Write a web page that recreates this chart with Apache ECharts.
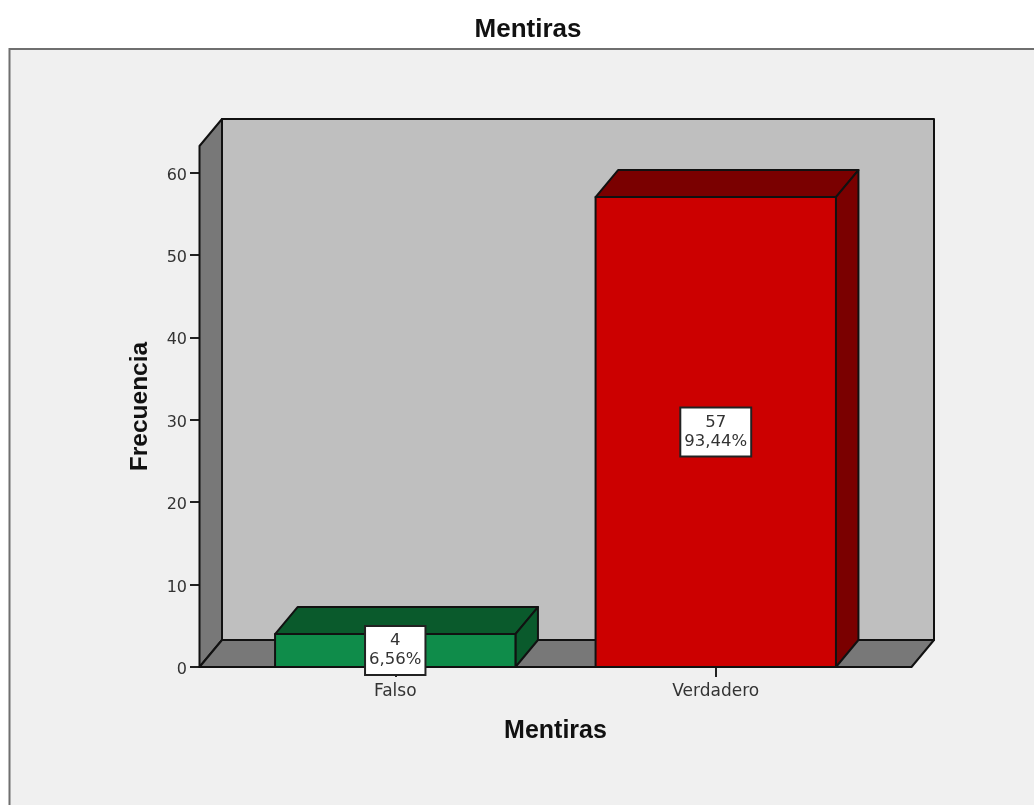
<!DOCTYPE html>
<html>
<head>
<meta charset="utf-8">
<title>Mentiras</title>
<script src="https://cdn.jsdelivr.net/npm/echarts@6/dist/echarts.min.js"></script>
<style>
  html, body { margin: 0; padding: 0; background: #fff; }
  #chart { width: 1034px; height: 805px; }
</style>
</head>
<body>
<div id="chart"></div>
<script>
const categories = ['Falso', 'Verdadero'];
const counts = [4, 57];
const percents = ['6,56%', '93,44%'];
const yTicks = [0, 10, 20, 30, 40, 50, 60];

const faceColors = ['#0f8c4a', '#cc0000'];
const shadeColors = ['#0a5a2c', '#7a0000'];

// oblique offset of the fake 3d box
const depthX = 22.5;
const depthY = 27;
const wallPad = 35.5;
const boldFont = '"Liberation Sans", Arial, sans-serif';
const font = '"DejaVu Sans", sans-serif';
const edge = { stroke: '#111', lineWidth: 2, lineJoin: 'round' };

function poly(points, fill) {
  return { type: 'polygon', shape: { points: points }, style: Object.assign({ fill: fill }, edge) };
}

function renderWalls(params, api) {
  const cs = params.coordSys;
  const x0 = cs.x - wallPad;
  const x1 = cs.x + cs.width + wallPad;
  const y0 = cs.y + cs.height;
  const yt = cs.y;
  return {
    type: 'group',
    children: [
      poly([[x0 + depthX, yt - depthY], [x1 + depthX, yt - depthY], [x1 + depthX, y0 - depthY], [x0 + depthX, y0 - depthY]], '#bfbfbf'),
      poly([[x0, yt], [x0 + depthX, yt - depthY], [x0 + depthX, y0 - depthY], [x0, y0]], '#787878'),
      poly([[x0, y0], [x0 + depthX, y0 - depthY], [x1 + depthX, y0 - depthY], [x1, y0]], '#787878')
    ]
  };
}

function renderBar(params, api) {
  const i = api.value(0);
  const v = api.value(1);
  const top = api.coord([i, v]);
  const base = api.coord([i, 0]);
  const w = api.size([1, 0])[0] * 0.75;
  const l = top[0] - w / 2;
  const r = top[0] + w / 2;
  const t = top[1];
  const b = base[1];
  return {
    type: 'group',
    children: [
      poly([[l, t], [l + depthX, t - depthY], [r + depthX, t - depthY], [r, t]], shadeColors[i]),
      poly([[r, t], [r + depthX, t - depthY], [r + depthX, b - depthY], [r, b]], shadeColors[i]),
      poly([[l, t], [r, t], [r, b], [l, b]], faceColors[i]),
      {
        type: 'text',
        x: top[0],
        y: (t + b) / 2,
        z2: 10,
        style: {
          text: v + '\n' + percents[i],
          x: 0,
          y: 0,
          align: 'center',
          verticalAlign: 'middle',
          font: '16.5px ' + font,
          lineHeight: 19,
          fill: '#333',
          backgroundColor: '#fff',
          borderColor: '#222',
          borderWidth: 2,
          padding: [7, 3, 2, 3]
        }
      }
    ]
  };
}

const chart = echarts.init(document.getElementById('chart'));
chart.setOption({
  animation: false,
  backgroundColor: '#fff',
  textStyle: { fontFamily: font },
  title: {
    text: 'Mentiras',
    left: 523,
    top: 12,
    textAlign: 'center',
    textStyle: { fontFamily: boldFont, fontSize: 26, fontWeight: 'bold', color: '#111' }
  },
  graphic: [{
    type: 'rect',
    z: -1,
    silent: true,
    shape: { x: 9.5, y: 49, width: 1100, height: 850 },
    style: { fill: '#f0f0f0', stroke: '#6f6f6f', lineWidth: 2 }
  }],
  grid: { left: 235, top: 146, width: 641, height: 521 },
  xAxis: {
    type: 'category',
    data: categories,
    name: 'Mentiras',
    nameLocation: 'middle',
    nameGap: 52,
    nameTextStyle: { fontSize: 25, fontWeight: 'bold', color: '#111', fontFamily: boldFont },
    axisLine: { show: false },
    axisTick: { show: true, alignWithLabel: true, length: 10, lineStyle: { color: '#222', width: 2 } },
    axisLabel: { fontSize: 17, color: '#333', margin: 16, fontFamily: font },
    splitLine: { show: false }
  },
  yAxis: {
    type: 'value',
    min: 0,
    max: 63.2,
    offset: 35,
    name: 'Frecuencia',
    nameLocation: 'middle',
    nameGap: 47,
    nameTextStyle: { fontSize: 24.5, fontWeight: 'bold', color: '#111', fontFamily: boldFont },
    axisLine: { show: false },
    axisTick: { show: true, length: 10, customValues: yTicks, lineStyle: { color: '#222', width: 2 } },
    axisLabel: { fontSize: 16, color: '#333', margin: 13, fontFamily: font, customValues: yTicks, verticalAlign: 'top', padding: [-5, 0, 0, 0] },
    splitLine: { show: false }
  },
  series: [
    {
      type: 'custom',
      z: 1,
      clip: false,
      silent: true,
      renderItem: renderWalls,
      data: [[0, 0]]
    },
    {
      type: 'custom',
      z: 3,
      clip: false,
      renderItem: renderBar,
      encode: { x: 0, y: 1 },
      data: counts.map(function (c, i) { return [i, c]; })
    }
  ]
});
</script>
</body>
</html>
